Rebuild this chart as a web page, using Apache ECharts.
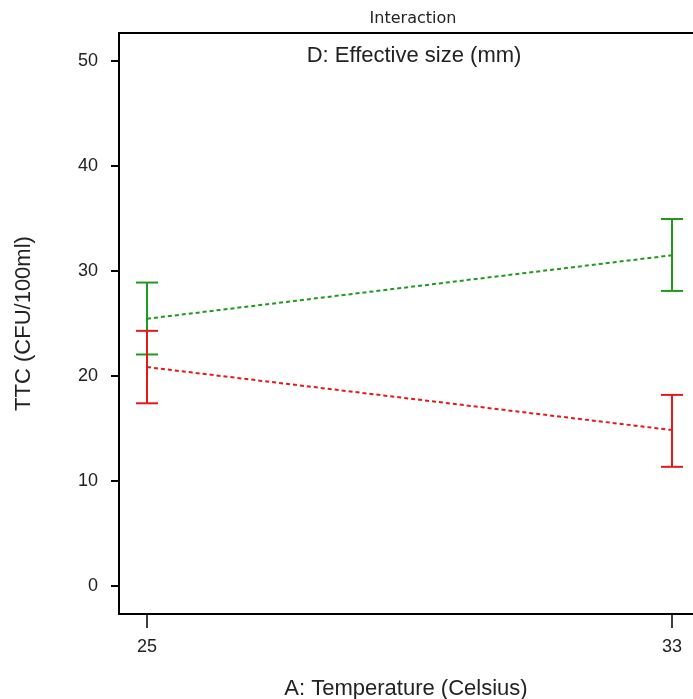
<!DOCTYPE html>
<html><head><meta charset="utf-8">
<script src="https://cdn.jsdelivr.net/npm/echarts@6/dist/echarts.min.js"></script>
<style>html,body{margin:0;padding:0;background:#fff}#c{width:693px;height:699px}</style>
</head><body><div id="c"></div>
<script>
const temps = [25, 33];
const xTicks = [25, 33];
const yTicks = [0, 10, 20, 30, 40, 50];
const greenMean = [25.45, 31.5];
const greenLow = [22.05, 28.1];
const greenHigh = [28.9, 34.95];
const redMean = [20.85, 14.85];
const redLow = [17.4, 11.35];
const redHigh = [24.3, 18.2];

const GREEN = '#1f9a1f';
const RED = '#e41a1a';
const FONT = 'Liberation Sans, Arial, sans-serif';

function errData(low, high) { return temps.map((t, i) => [t, low[i], high[i]]); }
function errRender(color) {
  return function (params, api) {
    const x = api.value(0);
    const lo = api.coord([x, api.value(1)]);
    const hi = api.coord([x, api.value(2)]);
    const hw = 11;
    const st = { stroke: color, lineWidth: 2 };
    return { type: 'group', children: [
      { type: 'line', shape: { x1: lo[0], y1: lo[1], x2: hi[0], y2: hi[1] }, style: st },
      { type: 'line', shape: { x1: lo[0] - hw, y1: lo[1], x2: lo[0] + hw, y2: lo[1] }, style: st },
      { type: 'line', shape: { x1: hi[0] - hw, y1: hi[1], x2: hi[0] + hw, y2: hi[1] }, style: st }
    ]};
  };
}

const chart = echarts.init(document.getElementById('c'));
chart.setOption({
  animation: false,
  textStyle: { fontFamily: FONT },
  title: [
    { text: 'Interaction', left: 408, top: 6, textAlign: 'center',
      textStyle: { fontSize: 16, fontWeight: 'normal', color: '#222', fontFamily: 'DejaVu Sans, sans-serif' } },
    { text: 'D: Effective size (mm)', left: 409, top: 40, textAlign: 'center',
      textStyle: { fontSize: 22, fontWeight: 'normal', color: '#222', fontFamily: FONT } }
  ],
  grid: { left: 119, right: 0, top: 33, bottom: 85, outerBoundsMode: 'none', containLabel: false },
  xAxis: [{
    type: 'value', min: 24.573, max: 33.32,
    name: 'A: Temperature (Celsius)', nameLocation: 'middle', nameGap: 64,
    nameTextStyle: { fontSize: 22, color: '#222', fontFamily: FONT },
    axisLine: { show: true, onZero: false, lineStyle: { color: '#000', width: 2 } },
    axisTick: { show: true, length: 14, customValues: xTicks, lineStyle: { color: '#000', width: 1.5 } },
    axisLabel: { customValues: xTicks, margin: 24, fontSize: 18, color: '#222', fontFamily: FONT },
    splitLine: { show: false }
  }, {
    type: 'value', position: 'top', min: 24.573, max: 33.32,
    axisLine: { show: true, onZero: false, lineStyle: { color: '#000', width: 2 } },
    axisTick: { show: false }, axisLabel: { show: false }, splitLine: { show: false }
  }],
  yAxis: {
    type: 'value', min: -2.667, max: 52.667,
    name: 'TTC (CFU/100ml)', nameLocation: 'middle', nameGap: 84, nameRotate: 90,
    nameTextStyle: { fontSize: 22, color: '#222', fontFamily: FONT },
    axisLine: { show: true, onZero: false, lineStyle: { color: '#000', width: 2 } },
    axisTick: { show: true, length: 8, customValues: yTicks, lineStyle: { color: '#000', width: 2 } },
    axisLabel: { customValues: yTicks, margin: 21, fontSize: 18, color: '#222', fontFamily: FONT },
    splitLine: { show: false }
  },
  series: [
    { type: 'line', data: temps.map((t, i) => [t, greenMean[i]]), symbol: 'none', silent: true,
      lineStyle: { color: GREEN, width: 2, type: [4, 3] }, z: 3 },
    { type: 'line', data: temps.map((t, i) => [t, redMean[i]]), symbol: 'none', silent: true,
      lineStyle: { color: RED, width: 2, type: [4, 3] }, z: 3 },
    { type: 'custom', data: errData(greenLow, greenHigh), renderItem: errRender(GREEN), z: 4 },
    { type: 'custom', data: errData(redLow, redHigh), renderItem: errRender(RED), z: 5 }
  ]
});
</script></body></html>
